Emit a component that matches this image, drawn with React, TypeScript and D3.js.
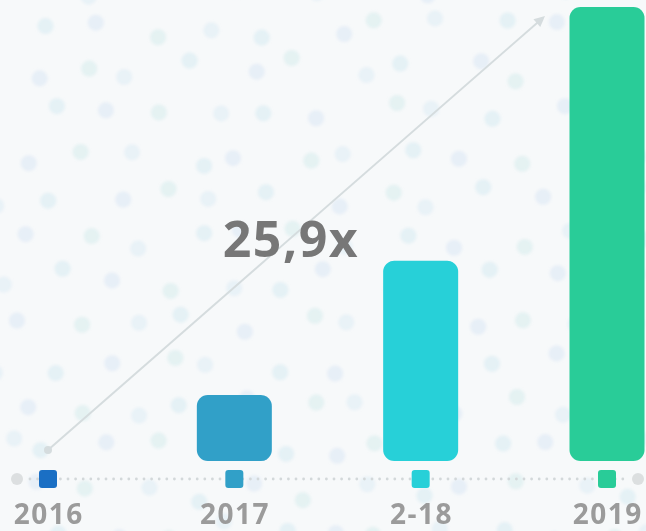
import React from "react";
import * as d3 from "d3";

const categories = ["2016", "2017", "2-18", "2019"];
const values = [0, 3.77, 11.42, 25.9];
const colors = ["#1a6fc4", "#31a0c8", "#27d0d8", "#29cc98"];
const multiplierLabel = "25,9x";

const W = 646;
const H = 531;

export default function App() {
  const x = d3.scalePoint<string>().domain(categories).range([48, 607]);
  const y = d3.scaleLinear().domain([0, 25.9]).range([461, 7]);
  const barW = 75;
  const baseY = 479;

  // decorative background dot texture (deterministic jitter)
  const bgDots: { cx: number; cy: number; c: string }[] = [];
  const pal = ["#cfe7f0", "#d2e3f3", "#cfe9e8", "#d6e8f4"];
  let k = 0;
  for (let r = -1; r < 13; r++) {
    for (let c = -1; c < 13; c++) {
      const h1 = Math.sin(r * 12.9898 + c * 78.233) * 43758.5453;
      const h2 = Math.sin(r * 39.3468 + c * 11.135) * 24634.6345;
      const jx = (h1 - Math.floor(h1) - 0.5) * 30;
      const jy = (h2 - Math.floor(h2) - 0.5) * 24;
      const cx = c * 55 + (r % 2) * 27 + jx;
      const cy = r * 42 + 28 + jy;
      bgDots.push({ cx, cy, c: pal[k++ % pal.length] });
    }
  }

  const dots = d3.range(30, 630, 7.6);
  const ax0 = x("2016")!;
  const ay0 = 450;
  const ax1 = 545;
  const ay1 = 16;
  const ang = Math.atan2(ay1 - ay0, ax1 - ax0);
  const ah = 12;
  const headPts = [
    [ax1, ay1],
    [ax1 - ah * Math.cos(ang - 0.45), ay1 - ah * Math.sin(ang - 0.45)],
    [ax1 - ah * Math.cos(ang + 0.45), ay1 - ah * Math.sin(ang + 0.45)],
  ];

  return (
    <svg
      width={W}
      height={H}
      style={{ position: "absolute", left: 0, top: 0, display: "block" }}
      fontFamily="'Open Sans', sans-serif"
    >
      <defs>
        <filter id="soft" x="-50%" y="-50%" width="200%" height="200%">
          <feGaussianBlur stdDeviation="1.8" />
        </filter>
      </defs>
      <rect width={W} height={H} fill="#f7f9fa" />
      <g filter="url(#soft)">
        {bgDots.map((d, i) => (
          <circle key={i} cx={d.cx} cy={d.cy} r={8} fill={d.c} opacity={0.45} />
        ))}
      </g>
      {/* arrow */}
      <line
        x1={ax0}
        y1={ay0}
        x2={ax1 - 6 * Math.cos(ang)}
        y2={ay1 - 6 * Math.sin(ang)}
        stroke="#d5dcde"
        strokeWidth={2}
      />
      <polygon points={headPts.map((p) => p.join(",")).join(" ")} fill="#d5dcde" />
      <circle cx={ax0} cy={ay0} r={4} fill="#d5dcde" />
      <text
        x={291}
        y={257}
        textAnchor="middle"
        fontSize={50}
        fontWeight={700}
        letterSpacing={1.5}
        fill="#777777"
      >
        {multiplierLabel}
      </text>
      {/* bars */}
      {categories.map((c, i) =>
        values[i] > 0 ? (
          <rect
            key={c}
            x={x(c)! - barW / 2}
            y={y(values[i])}
            width={barW}
            height={y(0) - y(values[i])}
            rx={11}
            fill={colors[i]}
          />
        ) : null
      )}
      {/* baseline */}
      <circle cx={17} cy={baseY} r={6} fill="#dcdfe0" />
      <circle cx={638} cy={baseY} r={6} fill="#dcdfe0" />
      {dots.map((d, i) => (
        <circle key={i} cx={d} cy={baseY} r={1.4} fill="#d3d8da" />
      ))}
      {categories.map((c, i) => (
        <g key={c}>
          <rect
            x={x(c)! - 9}
            y={baseY - 9}
            width={18}
            height={18}
            rx={3}
            fill={colors[i]}
          />
          <text
            x={x(c)! + 0.75}
            y={524}
            textAnchor="middle"
            fontSize={28}
            fontWeight={700}
            letterSpacing={1.5}
            fill="#9b9b9b"
          >
            {c}
          </text>
        </g>
      ))}
    </svg>
  );
}
